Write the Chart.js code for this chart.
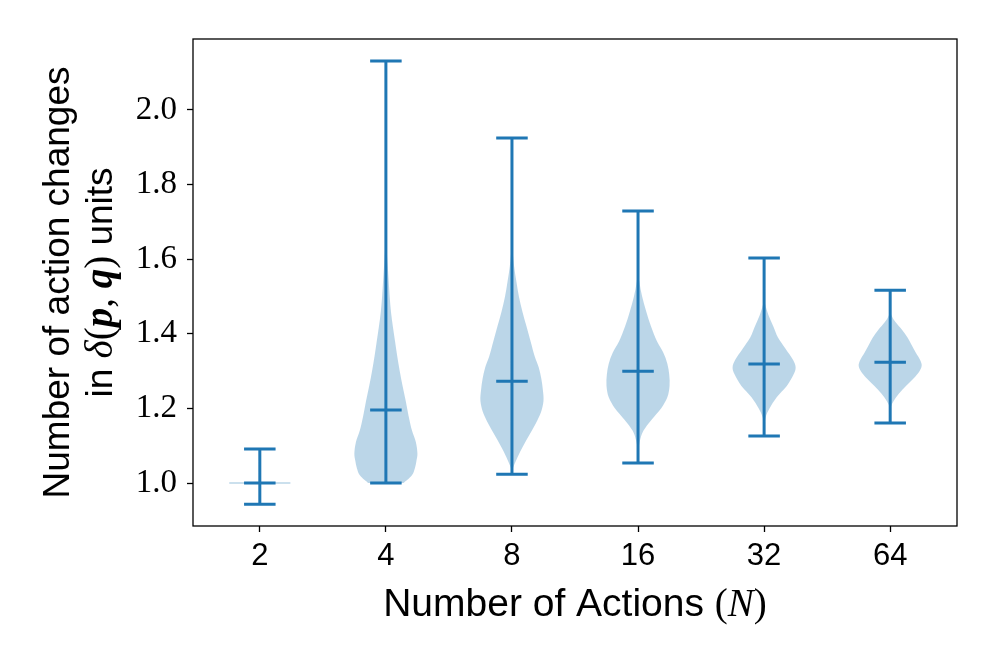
<!DOCTYPE html>
<html>
<head>
<meta charset="utf-8">
<script src="https://cdn.jsdelivr.net/npm/chart.js@4.4.1/dist/chart.umd.min.js"></script>
<style>
  html, body { margin: 0; padding: 0; background: #ffffff; }
  #wrap { width: 996px; height: 664px; }
</style>
</head>
<body>
<div id="wrap"><canvas id="c" width="996" height="664"></canvas></div>
<script>
// ---------------- data ----------------
const categories = ['2', '4', '8', '16', '32', '64'];
const minima  = [0.943, 1.000, 1.024, 1.054, 1.126, 1.161];
const medians = [1.000, 1.196, 1.273, 1.300, 1.319, 1.324];
const maxima  = [1.091, 2.131, 1.925, 1.729, 1.603, 1.517];
const yTicks  = [1.0, 1.2, 1.4, 1.6, 1.8, 2.0];

// violin density profiles (value levels, normalised density 0..1)
const levelsN2   = [0.998, 1.002];
const densityN2  = [0.97, 0.97];
const levelsN4   = [1.000, 1.020, 1.040, 1.060, 1.080, 1.110, 1.140, 1.180, 1.220, 1.260, 1.300, 1.340, 1.380, 1.420, 1.460, 1.500, 1.540, 1.580, 1.620, 1.660, 1.720, 2.131];
const densityN4  = [0.56, 0.82, 0.92, 0.97, 1.00, 0.95, 0.83, 0.72, 0.63, 0.53, 0.44, 0.36, 0.29, 0.22, 0.16, 0.12, 0.09, 0.06, 0.03, 0.012, 0.003, 0.0];
const levelsN8   = [1.024, 1.040, 1.070, 1.100, 1.130, 1.160, 1.190, 1.220, 1.250, 1.280, 1.310, 1.340, 1.380, 1.420, 1.460, 1.500, 1.540, 1.580, 1.620, 1.660, 1.925];
const densityN8  = [0.0, 0.03, 0.18, 0.36, 0.56, 0.755, 0.92, 1.0, 0.98, 0.93, 0.85, 0.72, 0.59, 0.46, 0.33, 0.22, 0.14, 0.07, 0.025, 0.008, 0.0];
const levelsN16  = [1.054, 1.080, 1.110, 1.140, 1.170, 1.200, 1.230, 1.260, 1.290, 1.320, 1.350, 1.380, 1.420, 1.460, 1.500, 1.540, 1.580, 1.729];
const densityN16 = [0.0, 0.01, 0.05, 0.17, 0.43, 0.73, 0.93, 1.0, 0.99, 0.93, 0.80, 0.60, 0.41, 0.26, 0.13, 0.04, 0.01, 0.0];
const levelsN32  = [1.126, 1.160, 1.180, 1.200, 1.230, 1.260, 1.290, 1.310, 1.330, 1.360, 1.390, 1.420, 1.450, 1.480, 1.500, 1.603];
const densityN32 = [0.0, 0.01, 0.06, 0.17, 0.40, 0.72, 0.93, 1.0, 0.92, 0.68, 0.44, 0.29, 0.14, 0.03, 0.008, 0.0];
const levelsN64  = [1.161, 1.200, 1.220, 1.240, 1.260, 1.280, 1.300, 1.315, 1.330, 1.350, 1.370, 1.390, 1.410, 1.430, 1.450, 1.470, 1.517];
const densityN64 = [0.0, 0.015, 0.11, 0.28, 0.50, 0.74, 0.93, 1.0, 0.95, 0.81, 0.68, 0.55, 0.38, 0.18, 0.04, 0.005, 0.0];

const violinLevels  = [levelsN2, levelsN4, levelsN8, levelsN16, levelsN32, levelsN64];
const violinDensity = [densityN2, densityN4, densityN8, densityN16, densityN32, densityN64];

// ---------------- style ----------------
const BLUE = '#1f77b4';
const BODY = 'rgba(31,119,180,0.3)';
const HALF_WIDTH = 0.25;   // violin half width (category units)
const CAP = 0.125;         // cap half width (category units)
const SANS = "'Liberation Sans', 'DejaVu Sans', sans-serif";
const SERIF = "'Liberation Serif', 'DejaVu Serif', serif";

// build the line segments (stems, extrema caps, medians)
const segs = [];
categories.forEach((c, i) => {
  const gap = { x: i, y: null };
  segs.push({ x: i, y: minima[i] }, { x: i, y: maxima[i] }, gap);
  segs.push({ x: i - CAP, y: minima[i] }, { x: i + CAP, y: minima[i] }, gap);
  segs.push({ x: i - CAP, y: maxima[i] }, { x: i + CAP, y: maxima[i] }, gap);
  segs.push({ x: i - CAP, y: medians[i] }, { x: i + CAP, y: medians[i] }, gap);
});

function smoothPath(ctx, pts, moveFirst) {
  // Catmull-Rom through pixel points
  for (let k = 0; k < pts.length; k++) {
    const p = pts[k];
    if (k === 0) { if (moveFirst) ctx.moveTo(p[0], p[1]); else ctx.lineTo(p[0], p[1]); continue; }
    const p0 = pts[Math.max(k - 2, 0)], p1 = pts[k - 1], p3 = pts[Math.min(k + 1, pts.length - 1)];
    const c1x = p1[0] + (p[0] - p0[0]) / 6, c1y = p1[1] + (p[1] - p0[1]) / 6;
    const c2x = p[0] - (p3[0] - p1[0]) / 6, c2y = p[1] - (p3[1] - p1[1]) / 6;
    ctx.bezierCurveTo(c1x, c1y, c2x, c2y, p[0], p[1]);
  }
}

const violinPlugin = {
  id: 'violins',
  beforeDatasetsDraw(chart) {
    const { ctx, chartArea: a, scales: { x, y } } = chart;
    ctx.save();
    ctx.beginPath();
    ctx.rect(a.left, a.top, a.right - a.left, a.bottom - a.top);
    ctx.clip();
    ctx.fillStyle = BODY;
    violinLevels.forEach((lv, i) => {
      const d = violinDensity[i];
      const right = lv.map((v, k) => [x.getPixelForValue(i + d[k] * HALF_WIDTH), y.getPixelForValue(v)]);
      const left = lv.map((v, k) => [x.getPixelForValue(i - d[k] * HALF_WIDTH), y.getPixelForValue(v)]).reverse();
      ctx.beginPath();
      smoothPath(ctx, right, true);
      smoothPath(ctx, left, false);
      ctx.closePath();
      ctx.fill();
    });
    ctx.restore();
  }
};

function drawRuns(ctx, runs, cx, baseline) {
  let total = 0;
  runs.forEach(r => { ctx.font = r[1]; r.w = ctx.measureText(r[0]).width; total += r.w; });
  let xx = cx - total / 2;
  ctx.textAlign = 'left';
  ctx.textBaseline = 'alphabetic';
  runs.forEach(r => { ctx.font = r[1]; ctx.fillText(r[0], xx, baseline); xx += r.w; });
}

const framePlugin = {
  id: 'frame',
  afterDraw(chart) {
    const { ctx, chartArea: a } = chart;
    ctx.save();
    ctx.strokeStyle = '#000';
    ctx.lineWidth = 1.3;
    ctx.strokeRect(a.left, a.top, a.right - a.left, a.bottom - a.top);
    ctx.fillStyle = '#000';
    // x axis title
    const sz = 39;
    drawRuns(ctx, [
      ['Number of Actions ', `${sz}px ${SANS}`],
      ['(', `${sz}px ${SERIF}`],
      ['N', `italic ${sz}px ${SERIF}`],
      [')', `${sz}px ${SERIF}`]
    ], (a.left + a.right) / 2, 616);
    // y axis title (two lines, rotated)
    const ys = 37;
    ctx.translate(0, (a.top + a.bottom) / 2);
    ctx.rotate(-Math.PI / 2);
    drawRuns(ctx, [['Number of action changes', `${ys}px ${SANS}`]], 0, 69);
    drawRuns(ctx, [
      ['in ', `${ys}px ${SANS}`],
      ['\u03B4', `italic ${ys + 2}px ${SERIF}`],
      ['(', `${ys + 2}px ${SERIF}`],
      ['p', `italic bold ${ys + 2}px ${SERIF}`],
      [', ', `${ys + 2}px ${SERIF}`],
      ['q', `italic bold ${ys + 2}px ${SERIF}`],
      [')', `${ys + 2}px ${SERIF}`],
      [' units', `${ys}px ${SANS}`]
    ], 0, 112);
    ctx.restore();
  }
};

new Chart(document.getElementById('c'), {
  type: 'scatter',
  data: {
    datasets: [{
      data: segs,
      showLine: true,
      spanGaps: false,
      borderColor: BLUE,
      borderWidth: 3,
      borderCapStyle: 'butt',
      pointRadius: 0,
      pointHoverRadius: 0
    }]
  },
  options: {
    responsive: false,
    animation: false,
    devicePixelRatio: 1,
    layout: { padding: { left: 0, right: 39, top: 39, bottom: 78 } },
    plugins: { legend: { display: false }, tooltip: { enabled: false } },
    scales: {
      x: {
        type: 'linear',
        min: -0.53, max: 5.53,
        afterBuildTicks: s => { s.ticks = categories.map((c, i) => ({ value: i })); },
        afterFit: s => { s.height = 60; },
        ticks: {
          callback: v => categories[v],
          font: { family: SANS, size: 31 },
          color: '#000', padding: 6, maxRotation: 0, autoSkip: false
        },
        grid: { drawOnChartArea: false, drawTicks: true, tickLength: 6, tickColor: '#000', tickWidth: 1.3 },
        border: { display: false }
      },
      y: {
        type: 'linear',
        min: 0.885, max: 2.19,
        afterBuildTicks: s => { s.ticks = yTicks.map(v => ({ value: v })); },
        afterFit: s => { s.width = 193; },
        ticks: {
          callback: v => Number(v).toFixed(1),
          font: { family: SERIF, size: 33 },
          color: '#000', padding: 10, autoSkip: false
        },
        grid: { drawOnChartArea: false, drawTicks: true, tickLength: 6, tickColor: '#000', tickWidth: 1.3 },
        border: { display: false }
      }
    }
  },
  plugins: [violinPlugin, framePlugin]
});
</script>
</body>
</html>
